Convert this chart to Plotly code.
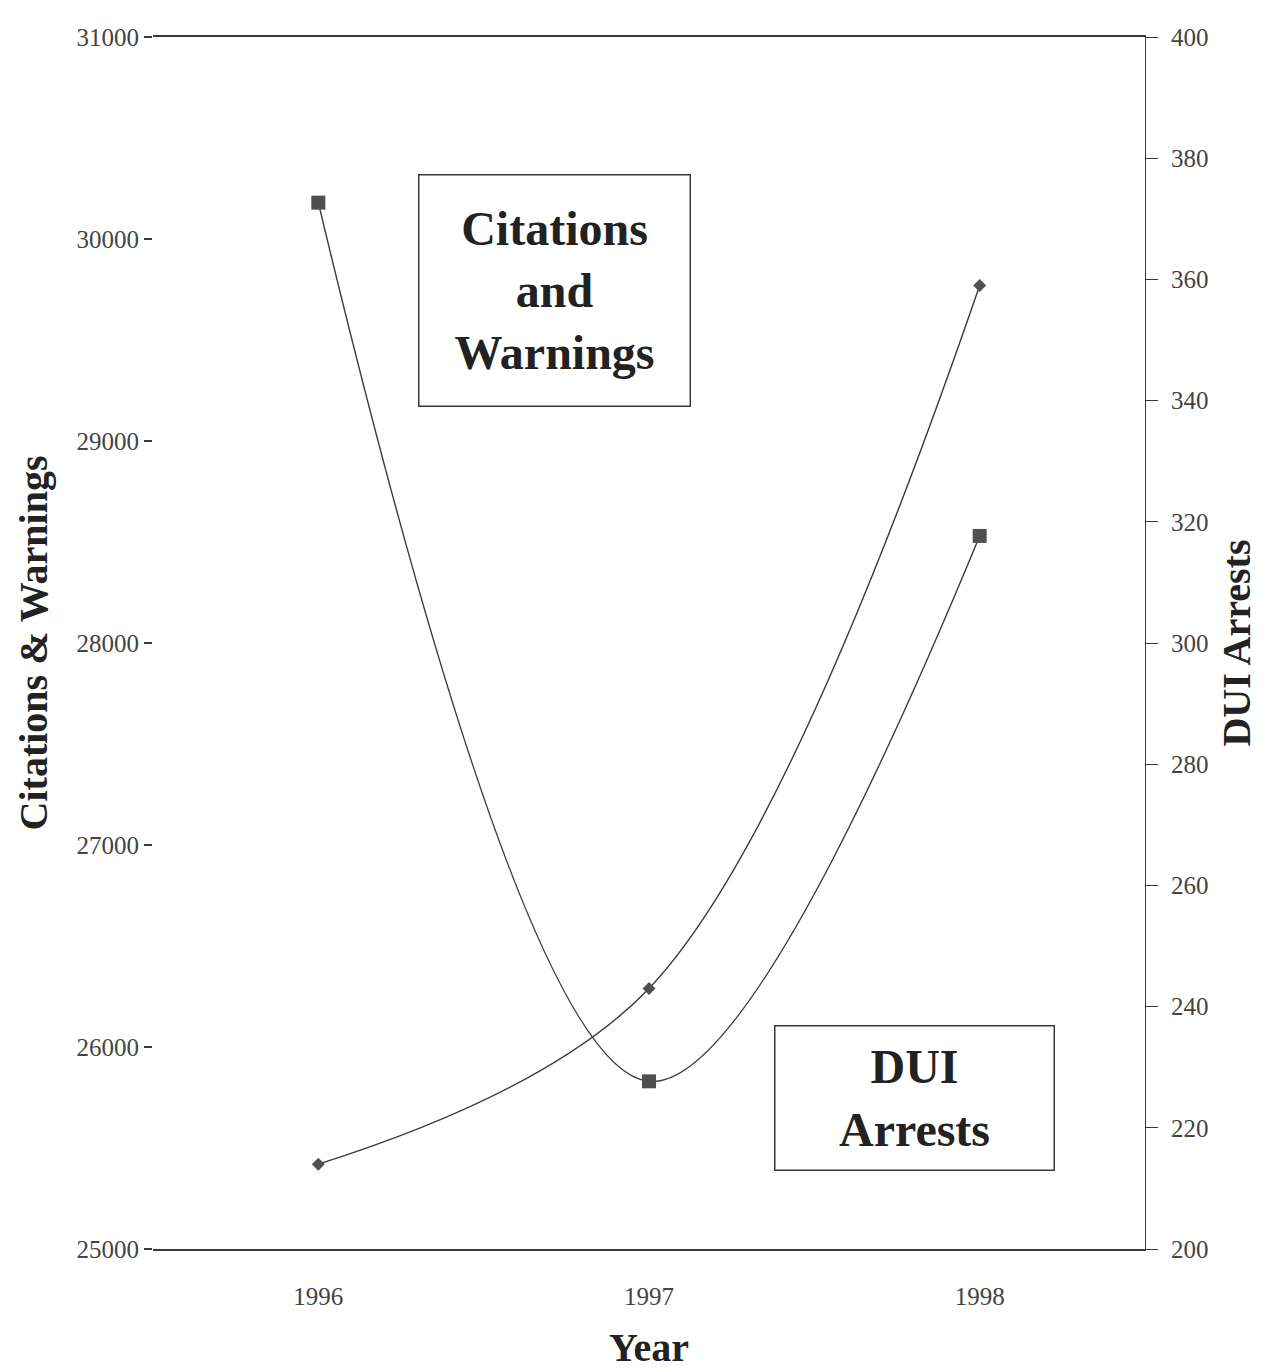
import plotly.graph_objects as go

years = ["1996", "1997", "1998"]
citations = [30180, 25830, 28530]
dui_arrests = [214, 243, 359]

left_ticks = [25000, 26000, 27000, 28000, 29000, 30000, 31000]
right_ticks = [200, 220, 240, 260, 280, 300, 320, 340, 360, 380, 400]

FONT = "Liberation Serif"
INK = "#3a3a3a"

fig = go.Figure()
fig.add_trace(go.Scatter(
    x=years, y=citations, name="Citations & Warnings",
    mode="lines+markers", line=dict(shape="spline", color=INK, width=1.4),
    marker=dict(symbol="square", size=14, color="#505050"),
    yaxis="y", cliponaxis=False,
))
fig.add_trace(go.Scatter(
    x=years, y=dui_arrests, name="DUI Arrests",
    mode="lines+markers", line=dict(shape="spline", color=INK, width=1.4),
    marker=dict(symbol="diamond", size=10, color="#505050"),
    yaxis="y2", cliponaxis=False,
))

fig.update_layout(
    width=1273, height=1370,
    margin=dict(l=153, r=128, t=37, b=121),
    paper_bgcolor="white", plot_bgcolor="white",
    showlegend=False,
    font=dict(family=FONT, color="#333"),
    xaxis=dict(
        type="category", range=[-0.5, 2.5], automargin=False,
        showline=True, mirror=True, linecolor=INK, linewidth=1.5,
        showgrid=False, ticks="", ticklabelstandoff=24,
        tickfont=dict(size=25, color="#444"),
        title=dict(text="<b>Year</b>", font=dict(size=40, color="#222"), standoff=30),
    ),
    yaxis=dict(
        range=[25000, 31000], tickvals=left_ticks, ticktext=[str(v) for v in left_ticks],
        automargin=False,
        showline=False, showgrid=False, zeroline=False,
        ticks="outside", ticklen=8, tickcolor=INK, tickwidth=1.5,
        tickfont=dict(size=25, color="#444"),
        title=dict(text="<b>Citations &amp; Warnings</b>", font=dict(size=40, color="#222"), standoff=16),
    ),
    yaxis2=dict(
        overlaying="y", side="right", automargin=False,
        range=[200, 400], tickvals=right_ticks, ticktext=[str(v) for v in right_ticks],
        showline=True, linecolor=INK, linewidth=1.2, showgrid=False, zeroline=False,
        ticks="outside", ticklen=12, tickcolor=INK, tickwidth=1.2,
        ticklabelstandoff=8,
        tickfont=dict(size=25, color="#444"),
        title=dict(text="<b>DUI Arrests</b>", font=dict(size=40, color="#222"), standoff=14),
    ),
    annotations=[
        dict(xref="paper", yref="paper", x=0.405, y=0.791,
             xanchor="center", yanchor="middle",
             text="<b>Citations<br>and<br>Warnings</b>", showarrow=False,
             font=dict(size=48, color="#222", family=FONT),
             bordercolor=INK, borderwidth=1.5, borderpad=4,
             width=262, height=222, bgcolor="white"),
        dict(xref="paper", yref="paper", x=0.768, y=0.125,
             xanchor="center", yanchor="middle",
             text="<b>DUI<br>Arrests</b>", showarrow=False,
             font=dict(size=48, color="#222", family=FONT),
             bordercolor=INK, borderwidth=1.5, borderpad=4,
             width=270, height=135, bgcolor="white"),
    ],
)

fig.write_html("out.html")
